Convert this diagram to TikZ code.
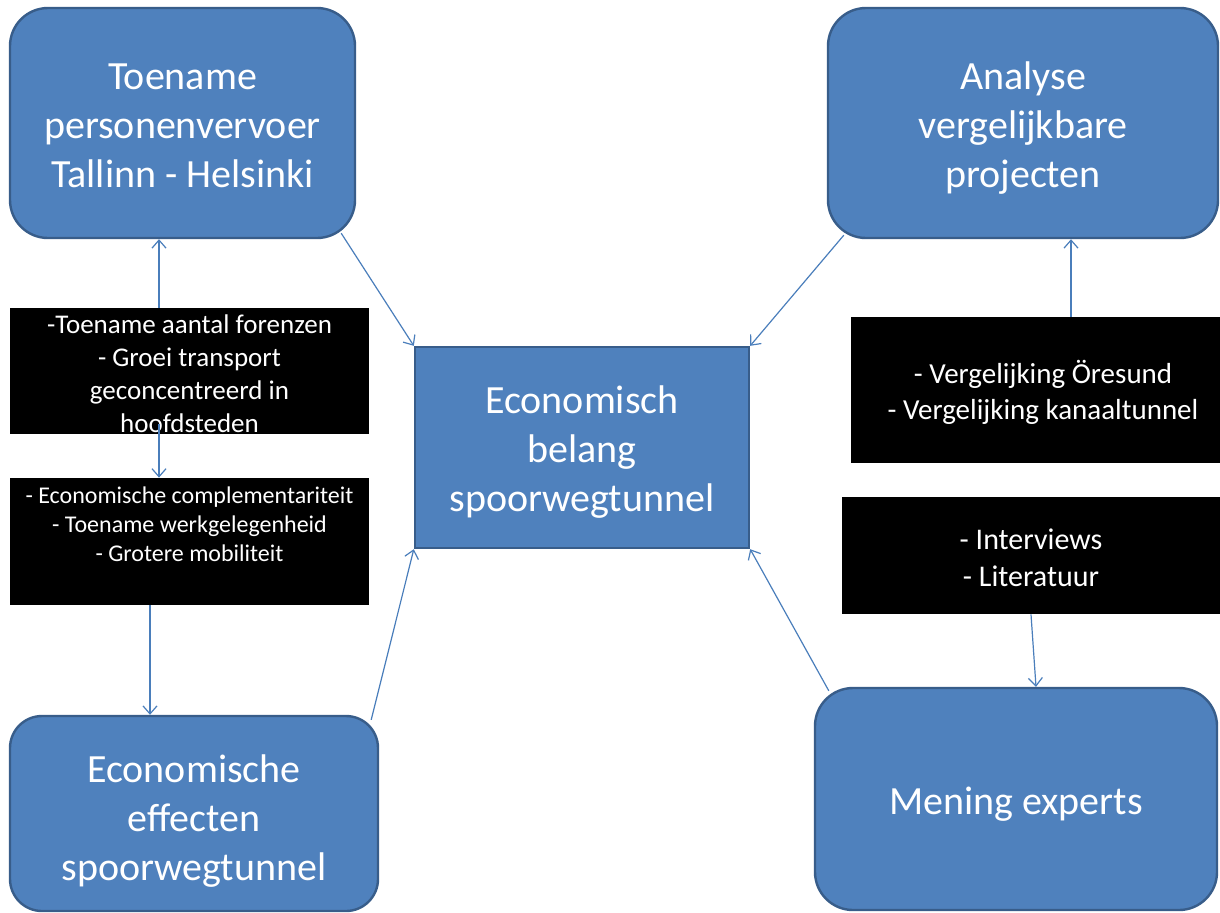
\documentclass[tikz,border=0pt]{standalone}
\usepackage{fontspec}
\setmainfont{Carlito}
\usepackage{xcolor}
\usepackage{tikz}
\usetikzlibrary{positioning,calc}
\usetikzlibrary{arrows.meta}
\definecolor{boxBlue}{HTML}{4F81BD}
\definecolor{edgeBlue}{HTML}{385D8A}
\definecolor{arrowBlue}{HTML}{4A7EBB}
\newcommand{\padtop}[1]{\rule{0pt}{#1}}
\tikzset{
  bigbox/.style={rectangle, rounded corners=19pt, fill=boxBlue, draw=edgeBlue,
    line width=1.2pt, text=white, align=center, inner sep=0pt,
    minimum width=172.5pt, minimum height=115pt,
    font=\fontsize{20}{24.5}\selectfont},
  midbox/.style={bigbox, rounded corners=0pt},
  blkbox/.style={rectangle, fill=black, text=white, align=center, inner sep=0pt},
  arr/.style={draw=arrowBlue, line width=0.6pt, -{Straight Barb[length=4pt,width=7pt]}}
}

\begin{document}
\begin{tikzpicture}[x=0.5pt, y=-0.5pt]
        \useasboundingbox[fill=white] (0,0) rectangle (1220,912);
        \clip (0,0) rectangle (1220,912);
        % blue boxes
        \node[bigbox] (tpv) at (182.5,123) {\padtop{16pt}Toename\\personenvervoer\\Tallinn - Helsinki};
        \node[bigbox, minimum width=195pt] (avp) at (1023,123) {\padtop{19pt}Analyse\\vergelijkbare\\projecten};
        \node[midbox, minimum width=167pt, minimum height=100.5pt] (ebs) at (582,447.5) {\padtop{18pt}Economisch\\belang\\spoorwegtunnel};
        \node[bigbox, minimum width=184pt, minimum height=97.5pt, rounded corners=16pt] (ees) at (194,813.5) {\padtop{21pt}Economische\\effecten\\spoorwegtunnel};
        \node[bigbox, minimum width=201pt, minimum height=111pt] (me) at (1016,799) {\padtop{19pt}Mening experts};
        % black boxes
        \node[blkbox, minimum width=179.5pt, minimum height=63pt, font=\fontsize{13.5}{16.5}\selectfont] (blkA) at (189.5,371)
          {\padtop{12pt}-Toename aantal forenzen\\- Groei transport\\geconcentreerd in\\hoofdsteden};
        \node[blkbox, minimum width=179.5pt, minimum height=63.5pt, font=\fontsize{12}{14.5}\selectfont] (blkB) at (189.5,541.5)
          {- Economische complementariteit\\- Toename werkgelegenheid\\- Grotere mobiliteit\\[3pt] \mbox{}};
        \node[blkbox, minimum width=192pt, minimum height=73pt, font=\fontsize{14.5}{18}\selectfont] (blkC) at (1043,390)
          {\padtop{13.5pt}- Vergelijking Öresund\\- Vergelijking kanaaltunnel};
        \node[blkbox, minimum width=189pt, minimum height=58.5pt, font=\fontsize{15}{18.5}\selectfont] (blkD) at (1031,555.5)
          {\padtop{12.5pt}- Interviews\\- Literatuur};
        % connectors
        \draw[arr] ([shift={(-15,-6)}]tpv.south east) -- (ebs.north west);
        \draw[arr] ([shift={(17,-4)}]avp.south west) -- (ebs.north east);
        \draw[arr] ([shift={(-8,5)}]ees.north east) -- (ebs.south west);
        \draw[arr] ([shift={(15,4)}]me.north west) -- (ebs.south east);
        \draw[arr] ([xshift=-15.25pt]blkA.north) -- ([xshift=-15.25pt]blkA.north |- tpv.south);
        \draw[arr] ([shift={(-30.5,-10)}]blkA.south) -- ([xshift=-15.25pt]blkB.north);
        \draw[arr] ([xshift=-19.75pt]blkB.south) -- ([xshift=-19.75pt]blkB.south |- ees.north);
        \draw[arr] ([xshift=14pt]blkC.north) -- ([xshift=14pt]blkC.north |- avp.south);
        \draw[arr] (blkD.south) -- ([xshift=10pt]me.north);
\end{tikzpicture}
\end{document}
